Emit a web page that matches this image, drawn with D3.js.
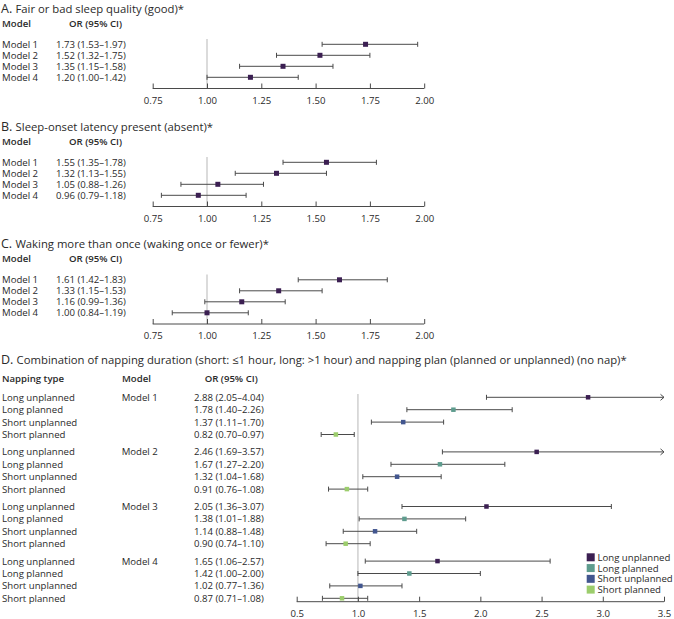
<!DOCTYPE html>
<html>
<head>
<meta charset="utf-8">
<script src="https://cdn.jsdelivr.net/npm/d3@7"></script>
<style>
html,body{margin:0;padding:0;background:#fff;}
svg{display:block;font-family:"Open Sans",sans-serif;}
</style>
</head>
<body>
<svg id="chart" width="674" height="619"></svg>
<script>
// ---- data ----
const modelNames = ["Model 1", "Model 2", "Model 3", "Model 4"];

const aOR = [1.73, 1.52, 1.35, 1.20];
const aLo = [1.53, 1.32, 1.15, 1.00];
const aHi = [1.97, 1.75, 1.58, 1.42];

const bOR = [1.55, 1.32, 1.05, 0.96];
const bLo = [1.35, 1.13, 0.88, 0.79];
const bHi = [1.78, 1.55, 1.26, 1.18];

const cOR = [1.61, 1.33, 1.16, 1.00];
const cLo = [1.42, 1.15, 0.99, 0.84];
const cHi = [1.83, 1.53, 1.36, 1.19];

const nappingTypes = ["Long unplanned", "Long planned", "Short unplanned", "Short planned"];
const dOR = [[2.88, 1.78, 1.37, 0.82], [2.46, 1.67, 1.32, 0.91], [2.05, 1.38, 1.14, 0.90], [1.65, 1.42, 1.02, 0.87]];
const dLo = [[2.05, 1.40, 1.11, 0.70], [1.69, 1.27, 1.04, 0.76], [1.36, 1.01, 0.88, 0.74], [1.06, 1.00, 0.77, 0.71]];
const dHi = [[4.04, 2.26, 1.70, 0.97], [3.57, 2.20, 1.68, 1.08], [3.07, 1.88, 1.48, 1.10], [2.57, 2.00, 1.36, 1.08]];

const abcTicks = [0.75, 1.00, 1.25, 1.50, 1.75, 2.00];
const dTicks = [0.5, 1.0, 1.5, 2.0, 2.5, 3.0, 3.5];

const titles = {
  A: "Fair or bad sleep quality (good)*",
  B: "Sleep-onset latency present (absent)*",
  C: "Waking more than once (waking once or fewer)*",
  D: "Combination of napping duration (short: \u22641 hour, long: >1 hour) and napping plan (planned or unplanned) (no nap)*"
};

const typeColors = ["#3b1f52", "#5e9c8e", "#42568f", "#9ccd6c"];
const markColor = "#3b1f52";
const textColor = "#2a2a2a";
const barColor = "#4a4a4a";
const refColor = "#cfcfcf";
const FS = 9.6;

const svg = d3.select("#chart");
const fmtCI = (o, l, h) => `${o.toFixed(2)} (${l.toFixed(2)}\u2013${h.toFixed(2)})`;

function title(letter, text, baseline) {
  const t = svg.append("text").attr("x", 1).attr("y", baseline).attr("fill", textColor);
  t.append("tspan").attr("font-size", 12.5).text(letter + ". ");
  t.append("tspan").attr("font-size", 11.3).text(text);
}

function drawBar(g, x, y, o, lo, hi, color, size, domainMax) {
  const clipHi = Math.min(hi, domainMax);
  g.append("line").attr("x1", x(lo)).attr("x2", x(clipHi)).attr("y1", y).attr("y2", y)
    .attr("stroke", barColor).attr("stroke-width", 1);
  g.append("line").attr("x1", x(lo)).attr("x2", x(lo)).attr("y1", y - 2.5).attr("y2", y + 2.5)
    .attr("stroke", barColor).attr("stroke-width", 1);
  if (hi > domainMax) {
    const xe = x(domainMax);
    g.append("path").attr("d", `M${xe - 3.5},${y - 3}L${xe},${y}L${xe - 3.5},${y + 3}`)
      .attr("fill", "none").attr("stroke", barColor).attr("stroke-width", 1);
  } else {
    g.append("line").attr("x1", x(hi)).attr("x2", x(hi)).attr("y1", y - 2.5).attr("y2", y + 2.5)
      .attr("stroke", barColor).attr("stroke-width", 1);
  }
  g.append("rect").attr("x", x(o) - size / 2).attr("y", y - size / 2)
    .attr("width", size).attr("height", size).attr("fill", color);
}

function drawAxis(x, ticks, fmt, yAxis) {
  const ax = svg.append("g").attr("transform", `translate(0,${yAxis})`)
    .call(d3.axisBottom(x).tickValues(ticks).tickFormat(d3.format(fmt)).tickSize(-5).tickPadding(8.5));
  ax.select(".domain").attr("d", `M${x(ticks[0])},0H${x(ticks[ticks.length - 1])}`)
    .attr("stroke", barColor);
  ax.selectAll(".tick line").attr("stroke", barColor);
  ax.selectAll(".tick text").attr("font-size", FS).attr("fill", textColor)
    .attr("font-family", "Open Sans");
}

// ---- panels A-C ----
const xABC = d3.scaleLinear().domain([0.75, 2.00]).range([152.7, 424.2]);
const panels = [
  { letter: "A", o: aOR, lo: aLo, hi: aHi, top: 0 },
  { letter: "B", o: bOR, lo: bLo, hi: bHi, top: 118 },
  { letter: "C", o: cOR, lo: cLo, hi: cHi, top: 235.5 }
];
panels.forEach(p => {
  const t = p.top;
  title(p.letter, titles[p.letter], t + 12.5);
  svg.append("text").attr("x", 2).attr("y", t + 26.5).attr("font-size", FS).attr("font-weight", 600)
    .attr("fill", textColor).text("Model");
  svg.append("text").attr("x", 69).attr("y", t + 26.5).attr("font-size", FS).attr("font-weight", 600)
    .attr("fill", textColor).text("OR (95% CI)");
  const y = d3.scalePoint().domain(modelNames).range([t + 44.3, t + 77.3]);
  const yAxis = t + 88.5;
  svg.append("line").attr("x1", xABC(1)).attr("x2", xABC(1)).attr("y1", t + 39).attr("y2", yAxis)
    .attr("stroke", refColor).attr("stroke-width", 1.5);
  const g = svg.append("g");
  modelNames.forEach((m, i) => {
    svg.append("text").attr("x", 2).attr("y", y(m) + 3.5).attr("font-size", FS).attr("fill", textColor).text(m);
    svg.append("text").attr("x", 56).attr("y", y(m) + 3.5).attr("font-size", FS).attr("fill", textColor)
      .text(fmtCI(p.o[i], p.lo[i], p.hi[i]));
    drawBar(g, xABC, y(m), p.o[i], p.lo[i], p.hi[i], markColor, 5, 2.0);
  });
  drawAxis(xABC, abcTicks, ".2f", yAxis);
});

// ---- panel D ----
const xD = d3.scaleLinear().domain([0.5, 3.5]).range([296.7, 664]);
title("D", titles.D, 363.5);
[["Napping type", 2], ["Model", 122], ["OR (95% CI)", 204.7]].forEach(([s, xx]) => {
  svg.append("text").attr("x", xx).attr("y", 381.5).attr("font-size", FS).attr("font-weight", 600)
    .attr("fill", textColor).text(s);
});
const yGroup = d3.scaleBand().domain(modelNames).range([397.3, 397.3 + 4 * 54.6]).paddingInner(0);
const yRow = d3.scalePoint().domain(nappingTypes).range([0, 37.2]);
const yAxisD = 601.7;
svg.append("line").attr("x1", xD(1)).attr("x2", xD(1)).attr("y1", 394).attr("y2", yAxisD)
  .attr("stroke", refColor).attr("stroke-width", 1.5);
const gD = svg.append("g");
modelNames.forEach((m, gi) => {
  const base = yGroup(m);
  svg.append("text").attr("x", 121.7).attr("y", base + 3.5).attr("font-size", FS).attr("fill", textColor).text(m);
  nappingTypes.forEach((tname, i) => {
    const yy = base + yRow(tname);
    svg.append("text").attr("x", 2).attr("y", yy + 3.5).attr("font-size", FS).attr("fill", textColor).text(tname);
    svg.append("text").attr("x", 194).attr("y", yy + 3.5).attr("font-size", FS).attr("fill", textColor)
      .text(fmtCI(dOR[gi][i], dLo[gi][i], dHi[gi][i]));
    drawBar(gD, xD, yy, dOR[gi][i], dLo[gi][i], dHi[gi][i], typeColors[i], 4.5, 3.5);
  });
});
drawAxis(xD, dTicks, ".1f", yAxisD);

// legend
const yLeg = d3.scalePoint().domain(nappingTypes).range([557.3, 589.6]);
nappingTypes.forEach((tname, i) => {
  svg.append("rect").attr("x", 586.7).attr("y", yLeg(tname) - 4).attr("width", 8).attr("height", 8)
    .attr("fill", typeColors[i]);
  svg.append("text").attr("x", 597.5).attr("y", yLeg(tname) + 3.5).attr("font-size", FS)
    .attr("fill", textColor).text(tname);
});
</script>
</body>
</html>
